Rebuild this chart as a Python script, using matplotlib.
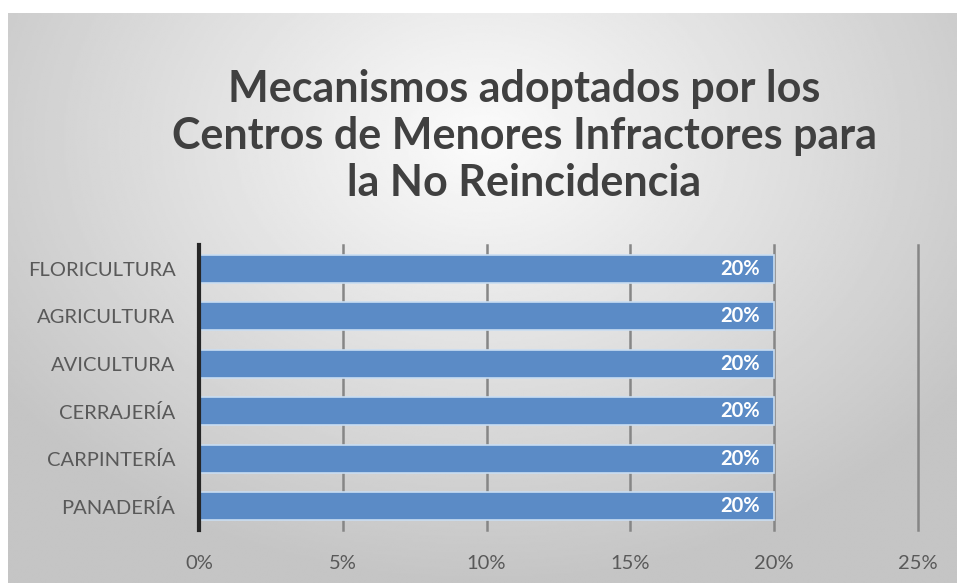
import numpy as np
import matplotlib
matplotlib.use('Agg')
import matplotlib.pyplot as plt
from matplotlib.ticker import FuncFormatter

categories = ['PANADERÍA', 'CARPINTERÍA', 'CERRAJERÍA', 'AVICULTURA', 'AGRICULTURA', 'FLORICULTURA']
values = [0.20, 0.20, 0.20, 0.20, 0.20, 0.20]
x_ticks = [0, 0.05, 0.10, 0.15, 0.20, 0.25]
title = 'Mecanismos adoptados por los\nCentros de Menores Infractores para\nla No Reincidencia'

W, H = 957, 583
fig = plt.figure(figsize=(W / 100, H / 100), dpi=100)
fig.patch.set_facecolor('white')

# radial gray gradient background (chart area leaves a white strip top/left)
bg = fig.add_axes([8 / W, 0, 1 - 8 / W, 1 - 13 / H], zorder=-10)
yy, xx = np.mgrid[0:1:300j, 0:1:500j]
r = np.sqrt(((xx - 0.5) / 0.75) ** 2 + ((yy - 0.22) / 0.95) ** 2)
shade = np.clip(0.985 - 0.26 * r, 0.77, 1)
bg.imshow(shade, cmap='gray', vmin=0, vmax=1, aspect='auto', extent=[0, 1, 1, 0])
bg.axis('off')

ax = fig.add_axes([199 / W, 53 / H, (918 - 199) / W, (530 - 245) / H])
ax.patch.set_alpha(0)
y = np.arange(len(categories))
ax.barh(y, values, height=0.58, color='#5b8bc6', edgecolor='#c9ddf2', linewidth=1.2, zorder=3)
for yi, v in zip(y, values):
    ax.text(v - 0.005, yi, f'{v:.0%}', ha='right', va='center', color='white',
            fontsize=14.5, fontweight='bold', family='Lato', zorder=4)

ax.set_xlim(0, 0.25)
ax.set_ylim(-0.5, len(categories) - 0.5)
ax.set_xticks(x_ticks)
ax.xaxis.set_major_formatter(FuncFormatter(lambda v, p: f'{v:.0%}'))
ax.set_yticks(y)
ax.set_yticklabels(categories)
ax.tick_params(axis='both', length=0, labelsize=14.5, labelcolor='#595959')
ax.tick_params(axis='x', pad=18)
ax.tick_params(axis='y', pad=17)
for lab in ax.get_xticklabels() + ax.get_yticklabels():
    lab.set_family('Lato')
ax.grid(axis='x', color='#868686', linewidth=1.8, zorder=0)
for gl in ax.get_xgridlines():
    gl.set_clip_on(False)
for s in ['top', 'right', 'bottom']:
    ax.spines[s].set_visible(False)
ax.spines['left'].set_color('#262626')
ax.spines['left'].set_linewidth(3)
ax.spines['left'].set_zorder(5)

fig.text(0.548, 1 - 136 / H, title, ha='center', va='center', fontsize=31,
         fontweight='bold', color='#404040', family='Lato', linespacing=1.22)

fig.savefig('out.png', dpi=100, facecolor='white')
